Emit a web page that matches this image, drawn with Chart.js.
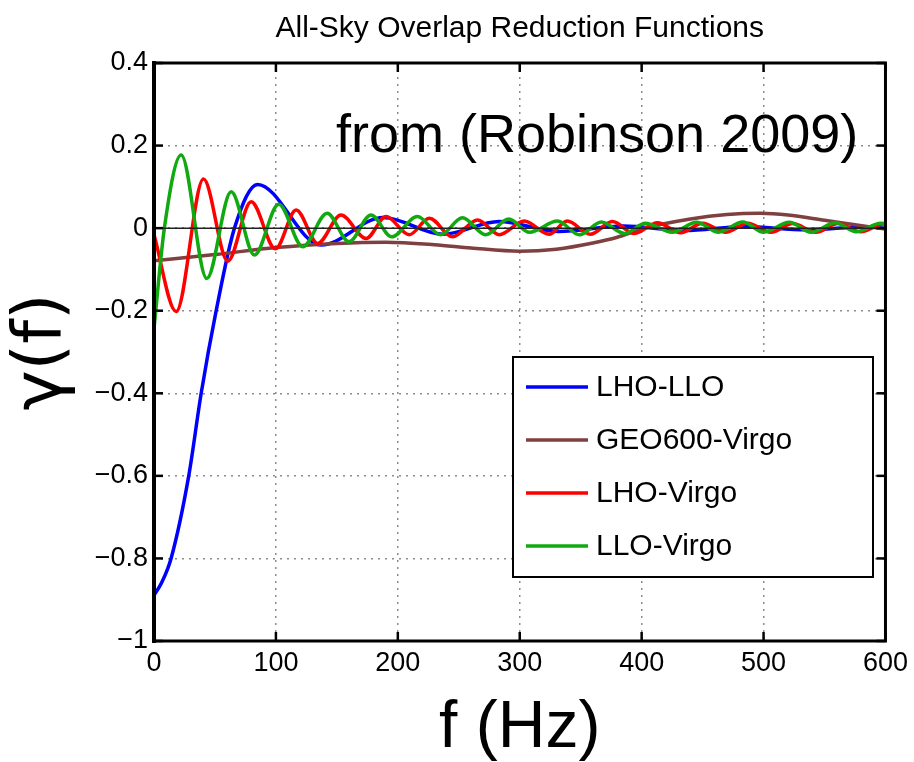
<!DOCTYPE html>
<html><head><meta charset="utf-8">
<script src="https://cdn.jsdelivr.net/npm/chart.js@4.4.1/dist/chart.umd.min.js"></script>
<style>html,body{margin:0;padding:0;background:#fff;overflow:hidden}#wrap{width:914px;height:762px;position:relative}</style>
</head><body><div id="wrap"><canvas id="c" width="914" height="762"></canvas></div>
<script>
// ---- texts ----
const titleText = 'All-Sky Overlap Reduction Functions';
const noteText = 'from (Robinson 2009)';
const xAxisTitle = 'f (Hz)';
const yAxisTitle = 'γ(f)';
const seriesLabels = ['LHO-LLO', 'GEO600-Virgo', 'LHO-Virgo', 'LLO-Virgo'];
const seriesColors = ['#0000ff', '#7f4040', '#ff0000', '#10aa10'];

// ---- ticks ----
const xTickValues = [0, 100, 200, 300, 400, 500, 600];
const xTickLabels = ['0', '100', '200', '300', '400', '500', '600'];
const yTickValues = [0.4, 0.2, 0, -0.2, -0.4, -0.6, -0.8, -1];
const yTickLabels = ['0.4', '0.2', '0', '\u22120.2', '\u22120.4', '\u22120.6', '\u22120.8', '\u22121'];

// ---- series ----
const freqLHOLLO  = [0, 6, 14, 28.5, 38.7, 51, 66, 85, 137, 188, 237, 283, 332, 385, 435, 485, 535, 585, 600];
const gammaLHOLLO = [-0.889, -0.860, -0.800, -0.600, -0.400, -0.200, 0.000, 0.106, -0.041, 0.026, -0.015, 0.016, -0.008, 0.005, -0.006, 0.004, -0.004, 0.003, 0.000];

const freqGEOVirgo  = [0, 50, 100, 150, 190, 230, 260, 300, 330, 360, 380, 400, 440, 470, 497, 520, 550, 575, 600];
const gammaGEOVirgo = [-0.079, -0.064, -0.047, -0.037, -0.034, -0.040, -0.048, -0.056, -0.051, -0.036, -0.022, -0.002, 0.022, 0.033, 0.036, 0.032, 0.019, 0.008, -0.002];

const freqLHOVirgo  = [0, 18.2, 40.6, 60.5, 79.7, 99.6, 116.6, 134.3, 153.4, 174, 190.3, 209.4, 225.8, 245, 265.4, 283.2, 303.7, 324, 339, 358, 376, 394, 413, 432, 450, 469, 487, 506, 524, 543, 561, 580, 598, 600];
const gammaLHOVirgo = [-0.016, -0.202, 0.119, -0.080, 0.064, -0.050, 0.044, -0.037, 0.032, -0.025, 0.028, -0.016, 0.024, -0.021, 0.020, -0.016, 0.017, -0.015, 0.017, -0.015, 0.016, -0.013, 0.013, -0.011, 0.012, -0.010, 0.012, -0.010, 0.011, -0.010, 0.011, -0.009, 0.010, 0.010];

const freqLLOVirgo  = [0, 8.5, 22.3, 43.3, 63.3, 82.4, 102.3, 122, 142, 160, 178, 195, 216, 235, 253, 272, 291, 308, 331, 349, 367, 386, 403, 425, 445, 463, 483, 500, 521, 539, 559, 576, 596, 600];
const gammaLLOVirgo = [-0.243, 0.000, 0.177, -0.122, 0.088, -0.065, 0.058, -0.045, 0.036, -0.033, 0.032, -0.021, 0.028, -0.016, 0.025, -0.016, 0.022, -0.010, 0.017, -0.016, 0.015, -0.013, 0.012, -0.010, 0.014, -0.010, 0.015, -0.010, 0.014, -0.010, 0.013, -0.009, 0.012, 0.011];

const zeroFreq = [0, 600];
const zeroGamma = [0, 0];

const FONT = "'Liberation Sans', Arial, Helvetica, sans-serif";
Chart.defaults.font.family = FONT;
Chart.defaults.color = '#000';

const toXY = (f, g) => f.map((x, i) => ({x: x, y: g[i]}));
const mk = (i, f, g, order) => ({
  label: seriesLabels[i], data: toXY(f, g), borderColor: seriesColors[i], backgroundColor: seriesColors[i],
  borderWidth: 3.5, pointRadius: 0, pointHoverRadius: 0, cubicInterpolationMode: 'monotone', fill: false, order: order
});

const decor = {
  id: 'decor',
  afterDatasetsDraw(chart) {
    const ctx = chart.ctx, a = chart.chartArea;
    const xs = chart.scales.x, ys = chart.scales.y;
    ctx.save();
    // frame
    ctx.strokeStyle = '#000';
    ctx.lineCap = 'square';
    ctx.lineWidth = 3;
    ctx.beginPath();
    ctx.moveTo(a.left, a.top); ctx.lineTo(a.right, a.top); ctx.lineTo(a.right, a.bottom); ctx.lineTo(a.left, a.bottom);
    ctx.stroke();
    ctx.lineWidth = 4;
    ctx.beginPath(); ctx.moveTo(a.left, a.top); ctx.lineTo(a.left, a.bottom); ctx.stroke();
    // inward ticks
    ctx.lineWidth = 2.5; ctx.lineCap = 'butt';
    const tl = 9;
    xTickValues.forEach(v => {
      const px = xs.getPixelForValue(v);
      ctx.beginPath(); ctx.moveTo(px, a.bottom); ctx.lineTo(px, a.bottom - tl); ctx.stroke();
      ctx.beginPath(); ctx.moveTo(px, a.top); ctx.lineTo(px, a.top + tl); ctx.stroke();
    });
    yTickValues.forEach(v => {
      const py = ys.getPixelForValue(v);
      ctx.beginPath(); ctx.moveTo(a.left, py); ctx.lineTo(a.left + tl, py); ctx.stroke();
      ctx.beginPath(); ctx.moveTo(a.right, py); ctx.lineTo(a.right - tl, py); ctx.stroke();
    });
    // note text
    ctx.fillStyle = '#000';
    ctx.font = '54px ' + FONT;
    ctx.textAlign = 'left'; ctx.textBaseline = 'alphabetic';
    ctx.fillText(noteText, 336, 152);
    // legend
    const lx = 513, ly = 357, lw = 360, lh = 220;
    ctx.fillStyle = '#fff';
    ctx.fillRect(lx, ly, lw, lh);
    ctx.strokeStyle = '#000'; ctx.lineWidth = 2;
    ctx.strokeRect(lx, ly, lw, lh);
    const rows = [387, 440, 493, 546];
    ctx.font = '30px ' + FONT;
    ctx.textBaseline = 'middle';
    chart.data.datasets.slice(0, 4).forEach((ds, i) => {
      ctx.strokeStyle = ds.borderColor; ctx.lineWidth = 3.5;
      ctx.beginPath(); ctx.moveTo(526, rows[i]); ctx.lineTo(588, rows[i]); ctx.stroke();
      ctx.fillStyle = '#000';
      ctx.fillText(ds.label, 596, rows[i] + 1);
    });
    // title
    ctx.font = '30px ' + FONT;
    ctx.textAlign = 'center'; ctx.textBaseline = 'middle';
    ctx.fillText(titleText, (a.left + a.right) / 2, 29);
    ctx.restore();
  }
};

new Chart(document.getElementById('c'), {
  type: 'line',
  data: {
    datasets: [
      mk(0, freqLHOLLO, gammaLHOLLO, 4),
      mk(1, freqGEOVirgo, gammaGEOVirgo, 3),
      mk(2, freqLHOVirgo, gammaLHOVirgo, 2),
      mk(3, freqLLOVirgo, gammaLLOVirgo, 1),
      {label: 'zero', data: toXY(zeroFreq, zeroGamma), borderColor: '#222', borderWidth: 1.5, pointRadius: 0, order: 0}
    ]
  },
  options: {
    responsive: false, animation: false, devicePixelRatio: 1,
    layout: {padding: {top: 63, right: 27, left: 0, bottom: 0}},
    plugins: {legend: {display: false}, tooltip: {enabled: false}, title: {display: false}},
    scales: {
      x: {
        type: 'linear', min: 0, max: 600,
        afterBuildTicks: s => { s.ticks = xTickValues.map(v => ({value: v})); },
        afterFit: s => { s.height = 121; },
        ticks: {callback: v => xTickLabels[xTickValues.indexOf(v)], font: {size: 27}, color: '#000', padding: 6, maxRotation: 0, autoSkip: false},
        grid: {color: c => (c.tick && (c.tick.value === 0 || c.tick.value === 600)) ? 'rgba(0,0,0,0)' : '#8c8c8c', lineWidth: 1.5, drawTicks: false},
        border: {display: false, dash: [2, 5]},
        title: {display: true, text: xAxisTitle, font: {size: 66, lineHeight: 1}, color: '#000', padding: {top: 0, bottom: 0}}
      },
      y: {
        type: 'linear', min: -1, max: 0.4,
        afterBuildTicks: s => { s.ticks = yTickValues.map(v => ({value: v})); },
        afterFit: s => { s.width = 154; },
        ticks: {callback: v => yTickLabels[yTickValues.findIndex(t => Math.abs(t - v) < 1e-9)], font: {size: 27}, color: '#000', padding: 6, autoSkip: false},
        grid: {color: c => (c.tick && (Math.abs(c.tick.value - 0.4) < 1e-9 || Math.abs(c.tick.value + 1) < 1e-9)) ? 'rgba(0,0,0,0)' : '#8c8c8c', lineWidth: 1.5, drawTicks: false},
        border: {display: false, dash: [2, 5]},
        title: {display: true, text: yAxisTitle, font: {size: 68, lineHeight: 1, family: "'DejaVu Sans', " + FONT}, color: '#000', padding: {top: 9, bottom: 0}}
      }
    }
  },
  plugins: [decor]
});
</script></body></html>
